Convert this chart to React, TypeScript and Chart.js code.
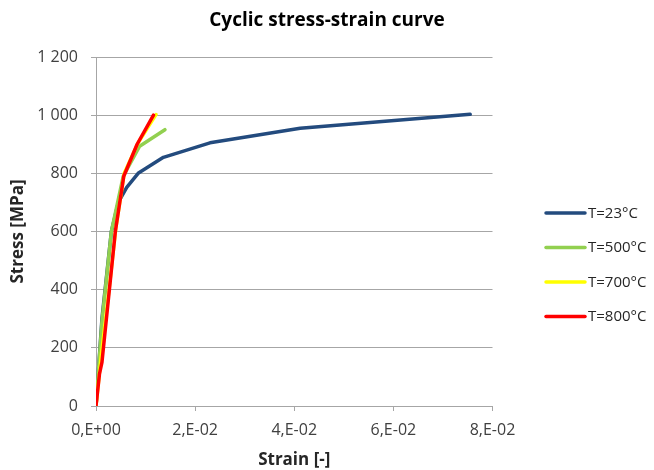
import React, { useEffect, useRef } from 'react';
import { Chart, registerables } from 'chart.js';

Chart.register(...registerables);

const TITLE = 'Cyclic stress-strain curve';
const X_TITLE = 'Strain [-]';
const Y_TITLE = 'Stress [MPa]';

const SERIES_LABELS = ['T=23°C', 'T=500°C', 'T=700°C', 'T=800°C'];
const SERIES_COLORS = ['#234b7e', '#92d050', '#ffff00', '#ff0000'];

// T=23°C
const strain23 = [0, 0.0012, 0.0031, 0.0045, 0.0062, 0.0085, 0.0136, 0.023, 0.0412, 0.0755];
const stress23 = [0, 300, 600, 700, 752, 800, 855, 905, 955, 1003];
// T=500°C
const strain500 = [0, 0.0012, 0.0031, 0.0055, 0.0088, 0.0139];
const stress500 = [0, 290, 600, 790, 893, 950];
// T=700°C
const strain700 = [0, 0.0011, 0.0027, 0.004, 0.0057, 0.0085, 0.0121];
const stress700 = [0, 180, 410, 610, 800, 905, 1002];
// T=800°C
const strain800 = [0, 0.0007, 0.0012, 0.0027, 0.0039, 0.0056, 0.0083, 0.0116];
const stress800 = [0, 110, 150, 400, 600, 790, 900, 1000];

const X_MIN = 0;
const X_MAX = 0.08;
const X_STEP = 0.02;
const Y_MIN = 0;
const Y_MAX = 1200;
const Y_STEP = 200;

const STRAINS = [strain23, strain500, strain700, strain800];
const STRESSES = [stress23, stress500, stress700, stress800];
const DRAW_ORDER = [3, 2, 1, 0];

const FONT = '"Open Sans", "DejaVu Sans", sans-serif';
const GRID = '#a6a6a6';
const TEXT = '#404040';

function sciLabel(v: number): string {
  if (Math.abs(v) < 1e-12) return '0,E+00';
  const e = Math.floor(Math.log10(Math.abs(v)) + 1e-9);
  const m = Math.round(v / Math.pow(10, e));
  const sign = e < 0 ? '-' : '+';
  return `${m},E${sign}${String(Math.abs(e)).padStart(2, '0')}`;
}

function thousands(v: number): string {
  const s = String(Math.round(v));
  return s.replace(/\B(?=(\d{3})+(?!\d))/g, ' ');
}

const overlayPlugin = {
  id: 'overlay',
  afterDraw(chart: any) {
    const ctx = chart.ctx as CanvasRenderingContext2D;
    const ca = chart.chartArea;
    ctx.save();
    // title
    ctx.font = `bold 19px ${FONT}`;
    ctx.fillStyle = '#000000';
    ctx.textAlign = 'center';
    ctx.textBaseline = 'alphabetic';
    ctx.fillText(TITLE, chart.width / 2, 26);
    // legend
    const x0 = ca.right + 53.5;
    const x1 = x0 + 39;
    chart.data.datasets.forEach((ds: any, i: number) => {
      const y = ca.top + 156 + i * 34.5;
      ctx.strokeStyle = ds.borderColor;
      ctx.lineWidth = 3.5;
      ctx.lineCap = 'round';
      ctx.beginPath();
      ctx.moveTo(x0, y);
      ctx.lineTo(x1, y);
      ctx.stroke();
      ctx.font = `15px ${FONT}`;
      ctx.fillStyle = '#262626';
      ctx.textAlign = 'left';
      ctx.textBaseline = 'middle';
      ctx.fillText(ds.label, x1 + 3, y + 0.5);
    });
    ctx.restore();
  },
};

export default function App() {
  const canvasRef = useRef<HTMLCanvasElement | null>(null);

  useEffect(() => {
    if (!canvasRef.current) return;
    const datasets = SERIES_LABELS.map((label, i) => ({
      label,
      data: STRAINS[i].map((x, j) => ({ x, y: STRESSES[i][j] })),
      borderColor: SERIES_COLORS[i],
      backgroundColor: SERIES_COLORS[i],
      borderWidth: 3.5,
      pointRadius: 0,
      tension: 0,
      fill: false,
      showLine: true,
      borderJoinStyle: 'round' as const,
      borderCapStyle: 'round' as const,
      order: DRAW_ORDER[i],
    }));

    const chart = new Chart(canvasRef.current, {
      type: 'scatter',
      data: { datasets },
      options: {
        animation: false,
        responsive: false,
        maintainAspectRatio: false,
        devicePixelRatio: 1,
        layout: { padding: { top: 57, right: 161.5, bottom: 0, left: 0 } },
        plugins: {
          legend: { display: false },
          title: { display: false },
          tooltip: { enabled: false },
        },
        scales: {
          x: {
            type: 'linear',
            min: X_MIN,
            max: X_MAX,
            afterFit: (scale: any) => {
              scale.height = 64;
            },
            ticks: {
              stepSize: X_STEP,
              callback: (v: any) => sciLabel(Number(v)),
              font: { family: FONT, size: 16 },
              color: TEXT,
              padding: 10,
              maxRotation: 0,
            },
            grid: {
              drawOnChartArea: false,
              drawTicks: true,
              tickLength: 5,
              color: GRID,
            },
            border: { display: true, color: GRID, width: 1 },
            title: {
              display: true,
              text: X_TITLE,
              font: { family: FONT, size: 17, weight: 'bold' },
              color: '#262626',
              padding: { top: 0, bottom: 0 },
            },
          },
          y: {
            type: 'linear',
            min: Y_MIN,
            max: Y_MAX,
            afterFit: (scale: any) => {
              scale.width = 96;
            },
            ticks: {
              stepSize: Y_STEP,
              callback: (v: any) => thousands(Number(v)),
              font: { family: FONT, size: 16 },
              color: TEXT,
              padding: 13,
            },
            grid: {
              drawTicks: true,
              tickLength: 5,
              color: GRID,
              lineWidth: 1,
            },
            border: { display: true, color: GRID, width: 1 },
            title: {
              display: true,
              text: Y_TITLE,
              font: { family: FONT, size: 17, weight: 'bold' },
              color: '#262626',
              padding: { top: 8, bottom: 0 },
            },
          },
        },
      },
      plugins: [overlayPlugin],
    });
    return () => chart.destroy();
  }, []);

  return (
    <div style={{ position: 'fixed', left: 0, top: 0, width: 654, height: 470, background: '#ffffff' }}>
      <canvas ref={canvasRef} width={654} height={470} style={{ display: 'block', width: 654, height: 470 }} />
    </div>
  );
}
